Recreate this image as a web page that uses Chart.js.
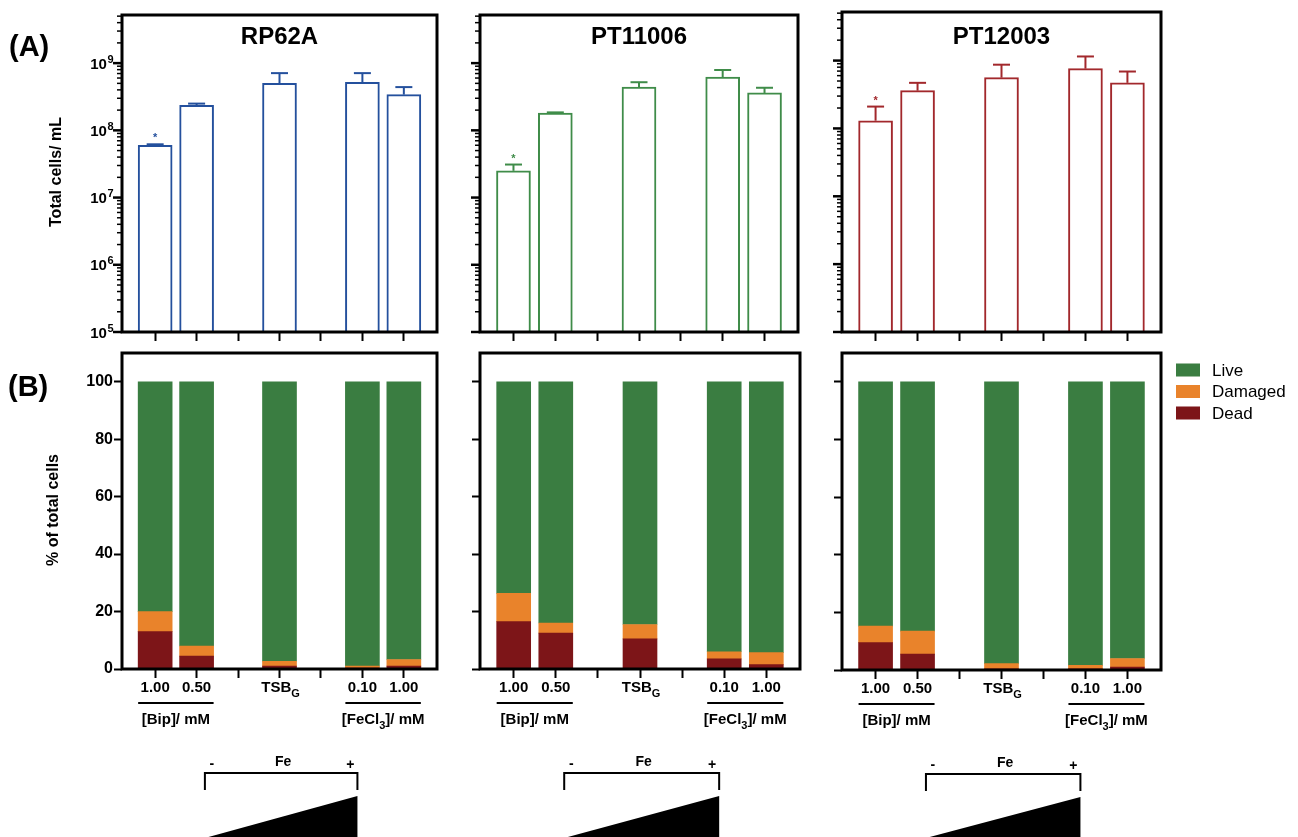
<!DOCTYPE html>
<html>
<head>
<meta charset="utf-8">
<script src="https://cdn.jsdelivr.net/npm/chart.js@4.4.1/dist/chart.umd.min.js"></script>
<style>
html, body { margin: 0; padding: 0; background: #fff; }
#fig { position: relative; width: 1298px; height: 837px; overflow: hidden; }
#fig canvas { position: absolute; }
</style>
</head>
<body>
<div id="fig"></div>
<script>
// categories (x position 2 and 4 are empty gaps with only a tick)
const xPositions = [0, 1, 3, 5, 6];
const xLabels = ['1.00', '0.50', 'TSB', '0.10', '1.00'];
const strainNames = ['RP62A', 'PT11006', 'PT12003'];
const strainColors = ['#24509d', '#3f8c49', '#a2282c'];

// (A) total cells / mL, mean and SD
const totalRP62A = [6.0e7, 2.35e8, 5.0e8, 5.2e8, 3.4e8];
const sdRP62A = [0.2e7, 0.15e8, 2.1e8, 1.9e8, 1.0e8];
const totalPT11006 = [2.5e7, 1.8e8, 4.4e8, 6.2e8, 3.6e8];
const sdPT11006 = [0.6e7, 0.05e8, 0.8e8, 1.7e8, 0.7e8];
const totalPT12003 = [1.3e8, 3.6e8, 5.6e8, 7.6e8, 4.7e8];
const sdPT12003 = [0.8e8, 1.1e8, 3.1e8, 3.9e8, 2.2e8];
const logExponents = [5, 6, 7, 8, 9];

// (B) % of total cells
const liveRP62A = [80, 92, 97.3, 99, 96.7];
const damagedRP62A = [7, 3.5, 1.7, 0.7, 2.3];
const deadRP62A = [13, 4.5, 1, 0.3, 1];
const livePT11006 = [73.7, 84, 84.5, 94, 94.3];
const damagedPT11006 = [9.8, 3.5, 5, 2.5, 4.2];
const deadPT11006 = [16.5, 12.5, 10.5, 3.5, 1.5];
const livePT12003 = [84.8, 86.5, 97.8, 98.4, 96];
const damagedPT12003 = [5.7, 8, 1.8, 1.2, 3];
const deadPT12003 = [9.5, 5.5, 0.4, 0.4, 1];
const pctTicks = [0, 20, 40, 60, 80, 100];

const liveColor = '#3a7d41';
const damagedColor = '#e9832b';
const deadColor = '#7d1518';

const FONT = '"Liberation Sans", Arial, Helvetica, sans-serif';
Chart.defaults.font.family = FONT;
Chart.defaults.color = '#000';

function addCanvas(b) {
    const c = document.createElement('canvas');
    c.width = b.width;
    c.height = b.height;
    c.style.left = b.left + 'px';
    c.style.top = b.top + 'px';
    document.getElementById('fig').appendChild(c);
    return c;
}

function xy(values) {
    return xPositions.map((x, i) => ({ x: x, y: values[i] }));
}

function line(ctx, x1, y1, x2, y2) {
    ctx.beginPath();
    ctx.moveTo(x1, y1);
    ctx.lineTo(x2, y2);
    ctx.stroke();
}

function frame(ctx, a) {
    ctx.save();
    ctx.lineWidth = 3;
    ctx.strokeStyle = '#000';
    ctx.strokeRect(a.left, a.top, a.right - a.left, a.bottom - a.top);
    ctx.restore();
}

function xAxis(padTick) {
    return {
        type: 'linear', min: -0.8, max: 6.8, offset: false,
        grid: { offset: false, drawOnChartArea: false, tickLength: 9, tickWidth: 2, tickColor: '#000' },
        border: { display: false },
        ticks: { display: false, stepSize: 1, includeBounds: false },
        afterFit: s => { s.height = padTick; }
    };
}

// Top row: log scale totals
function topPlugin(k, total, sd, box) {
    return {
        id: 'topPanel' + k,
        afterDatasetsDraw(chart) {
            const ctx = chart.ctx, a = chart.chartArea;
            const x = chart.scales.x, y = chart.scales.y;
            const color = strainColors[k];
            ctx.save();
            // error bars (upper only)
            ctx.strokeStyle = color;
            ctx.lineWidth = 2;
            xPositions.forEach((p, i) => {
                const px = x.getPixelForValue(p);
                const top = y.getPixelForValue(total[i]);
                const cap = y.getPixelForValue(total[i] + sd[i]);
                line(ctx, px, top, px, cap);
                line(ctx, px - 8.5, cap, px + 8.5, cap);
                if (i === 0) {
                    ctx.fillStyle = color;
                    ctx.font = 'bold 11px ' + FONT;
                    ctx.textAlign = 'center';
                    ctx.textBaseline = 'middle';
                    ctx.fillText('*', px, cap - 6);
                }
            });
            frame(ctx, a);
            // log ticks
            ctx.strokeStyle = '#000';
            ctx.fillStyle = '#000';
            logExponents.forEach(e => {
                for (let m = 1; m <= 9; m++) {
                    const v = m * Math.pow(10, e);
                    if (v > y.max) break;
                    const py = y.getPixelForValue(v);
                    ctx.lineWidth = m === 1 ? 2.5 : 1.5;
                    line(ctx, a.left - (m === 1 ? 9 : 5), py, a.left, py);
                    if (m === 1 && k === 0) {
                        ctx.textAlign = 'left';
                        ctx.textBaseline = 'alphabetic';
                        ctx.font = 'bold 15px ' + FONT;
                        const w10 = ctx.measureText('10').width;
                        ctx.font = 'bold 11px ' + FONT;
                        const we = ctx.measureText(String(e)).width;
                        const xs = a.left - 9 - w10 - we;
                        ctx.font = 'bold 15px ' + FONT;
                        ctx.fillText('10', xs, py + 5.5);
                        ctx.font = 'bold 11px ' + FONT;
                        ctx.fillText(String(e), xs + w10 + 0.5, py - 0.5);
                    }
                }
            });
            // title inside the frame
            ctx.font = 'bold 24px ' + FONT;
            ctx.textAlign = 'center';
            ctx.textBaseline = 'middle';
            ctx.fillText(strainNames[k], (a.left + a.right) / 2, 37 - box.top);
            if (k === 0) {
                ctx.font = 'bold 29px ' + FONT;
                ctx.textAlign = 'left';
                ctx.fillText('(A)', 9, 48);
                ctx.save();
                ctx.translate(57, 172);
                ctx.rotate(-Math.PI / 2);
                ctx.font = 'bold 16px ' + FONT;
                ctx.textAlign = 'center';
                ctx.fillText('Total cells/ mL', 0, 0);
                ctx.restore();
            }
            ctx.restore();
        }
    };
}

function makeTopChart(k, box, total, sd) {
    const canvas = addCanvas(box);
    new Chart(canvas, {
        type: 'bar',
        data: {
            datasets: [{
                label: strainNames[k],
                data: xy(total),
                backgroundColor: '#ffffff',
                borderColor: strainColors[k],
                borderWidth: 2,
                barThickness: 34
            }]
        },
        options: {
            responsive: false,
            animation: false,
            layout: { padding: { top: box.padTop, right: box.padRight, left: 0, bottom: 0 } },
            plugins: { legend: { display: false }, tooltip: { enabled: false } },
            scales: {
                x: xAxis(13),
                y: {
                    type: 'logarithmic', min: 1e5, max: 5.2e9,
                    grid: { display: false }, border: { display: false }, ticks: { display: false },
                    afterFit: s => { s.width = box.yWidth; }
                }
            }
        },
        plugins: [topPlugin(k, total, sd, box)]
    });
}

// Bottom row: stacked percentages
function subText(ctx, parts, cx, cy) {
    // parts: [text, isSub]
    let w = 0;
    parts.forEach(p => {
        ctx.font = (p[1] ? 'bold 11px ' : 'bold 15px ') + FONT;
        w += ctx.measureText(p[0]).width;
    });
    let xs = cx - w / 2;
    parts.forEach(p => {
        ctx.font = (p[1] ? 'bold 11px ' : 'bold 15px ') + FONT;
        ctx.fillText(p[0], xs, cy + (p[1] ? 6 : 0));
        xs += ctx.measureText(p[0]).width;
    });
}

function bottomPlugin(k, box) {
    return {
        id: 'bottomPanel' + k,
        afterDatasetsDraw(chart) {
            const ctx = chart.ctx, a = chart.chartArea;
            const x = chart.scales.x;
            ctx.save();
            frame(ctx, a);
            ctx.fillStyle = '#000';
            ctx.strokeStyle = '#000';
            ctx.textBaseline = 'middle';
            ctx.textAlign = 'left';
            // category labels
            xPositions.forEach((p, i) => {
                const px = x.getPixelForValue(p);
                if (xLabels[i] === 'TSB') {
                    subText(ctx, [['TSB', false], ['G', true]], px + 1, a.bottom + 19);
                } else {
                    subText(ctx, [[xLabels[i], false]], px, a.bottom + 19);
                }
            });
            // group underlines
            ctx.lineWidth = 2;
            const g1a = x.getPixelForValue(0) - 17, g1b = x.getPixelForValue(1) + 17;
            const g2a = x.getPixelForValue(5) - 17, g2b = x.getPixelForValue(6) + 17;
            line(ctx, g1a, a.bottom + 34, g1b, a.bottom + 34);
            line(ctx, g2a, a.bottom + 34, g2b, a.bottom + 34);
            subText(ctx, [['[Bip]/ mM', false]], (g1a + g1b) / 2, a.bottom + 51);
            subText(ctx, [['[FeCl', false], ['3', true], [']/ mM', false]], (g2a + g2b) / 2, a.bottom + 51);
            // Fe gradient bracket and wedge
            const fx1 = x.getPixelForValue(1.2), fx2 = x.getPixelForValue(4.88);
            const by = a.bottom + 104;
            ctx.lineWidth = 2;
            ctx.beginPath();
            ctx.moveTo(fx1, by + 17);
            ctx.lineTo(fx1, by);
            ctx.lineTo(fx2, by);
            ctx.lineTo(fx2, by + 17);
            ctx.stroke();
            ctx.font = 'bold 14px ' + FONT;
            ctx.textAlign = 'center';
            ctx.fillText('-', fx1 + 7, by - 9);
            ctx.fillText('Fe', (fx1 + fx2) / 2 + 2, by - 11);
            ctx.fillText('+', fx2 - 7, by - 8);
            ctx.beginPath();
            ctx.moveTo(fx1, chart.height + 1);
            ctx.lineTo(fx2, by + 23);
            ctx.lineTo(fx2, chart.height + 1);
            ctx.closePath();
            ctx.fill();
            if (k === 0) {
                ctx.font = 'bold 29px ' + FONT;
                ctx.textAlign = 'left';
                ctx.fillText('(B)', 8, 388 - box.top);
                ctx.save();
                ctx.translate(54, 510 - box.top);
                ctx.rotate(-Math.PI / 2);
                ctx.font = 'bold 16px ' + FONT;
                ctx.textAlign = 'center';
                ctx.fillText('% of total cells', 0, 0);
                ctx.restore();
            }
            if (k === 2) {
                // legend, Live on top
                const items = chart.data.datasets.slice().reverse();
                ctx.font = '17px ' + FONT;
                ctx.textAlign = 'left';
                items.forEach((d, i) => {
                    const cy = 370 - box.top + i * 21.5;
                    ctx.fillStyle = d.backgroundColor;
                    ctx.fillRect(1176 - box.left, cy - 6.5, 24, 13);
                    ctx.fillStyle = '#000';
                    ctx.fillText(d.label, 1212 - box.left, cy + 1);
                });
            }
            ctx.restore();
        }
    };
}

function makeBottomChart(k, box, live, damaged, dead) {
    const canvas = addCanvas(box);
    new Chart(canvas, {
        type: 'bar',
        data: {
            datasets: [
                { label: 'Dead', data: xy(dead), backgroundColor: deadColor, barThickness: 34 },
                { label: 'Damaged', data: xy(damaged), backgroundColor: damagedColor, barThickness: 34 },
                { label: 'Live', data: xy(live), backgroundColor: liveColor, barThickness: 34 }
            ]
        },
        options: {
            responsive: false,
            animation: false,
            layout: { padding: { top: box.padTop, right: box.padRight, left: 0, bottom: box.padBottom } },
            plugins: { legend: { display: false }, tooltip: { enabled: false } },
            scales: {
                x: Object.assign(xAxis(12), { stacked: true }),
                y: {
                    stacked: true, min: 0, max: 110,
                    afterBuildTicks: s => { s.ticks = pctTicks.map(v => ({ value: v })); },
                    grid: { drawOnChartArea: false, tickLength: 8, tickWidth: 2, tickColor: '#000' },
                    border: { display: false },
                    ticks: { display: k === 0, color: '#000', padding: 1, font: { size: 16, weight: 'bold' } },
                    afterFit: s => { s.width = box.yWidth; }
                }
            }
        },
        plugins: [bottomPlugin(k, box)]
    });
}

makeTopChart(0, { left: 0, top: 0, width: 450, height: 345, yWidth: 122, padTop: 15, padRight: 13 }, totalRP62A, sdRP62A);
makeTopChart(1, { left: 450, top: 0, width: 362, height: 345, yWidth: 30, padTop: 15, padRight: 14 }, totalPT11006, sdPT11006);
makeTopChart(2, { left: 812, top: 0, width: 486, height: 345, yWidth: 30, padTop: 12, padRight: 137 }, totalPT12003, sdPT12003);

makeBottomChart(0, { left: 0, top: 335, width: 450, height: 502, yWidth: 122, padTop: 18, padRight: 13, padBottom: 156 }, liveRP62A, damagedRP62A, deadRP62A);
makeBottomChart(1, { left: 450, top: 335, width: 362, height: 502, yWidth: 30, padTop: 18, padRight: 12, padBottom: 156 }, livePT11006, damagedPT11006, deadPT11006);
makeBottomChart(2, { left: 812, top: 335, width: 486, height: 502, yWidth: 30, padTop: 18, padRight: 137, padBottom: 155 }, livePT12003, damagedPT12003, deadPT12003);
</script>
</body>
</html>
